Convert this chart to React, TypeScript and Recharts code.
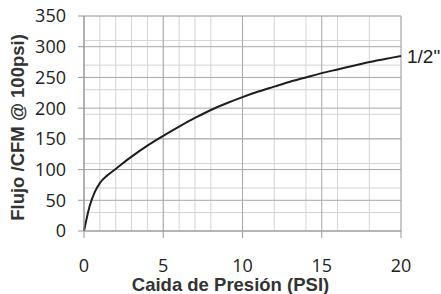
import React from "react";
import { LineChart, Line, XAxis, YAxis, CartesianGrid, ReferenceDot, Label } from "recharts";

const pressure = [0, 0.35, 0.67, 1, 1.5, 2, 3, 4, 5, 6, 7, 8, 9, 10, 11, 12, 13, 14, 15, 16, 17, 18, 19, 20];
const flow = [0, 40, 63, 78, 91, 101, 121, 139, 155, 170, 184, 197, 208, 218, 227, 235, 243, 250, 257, 263, 269, 275, 280, 285];
const xTicks = [0, 5, 10, 15, 20];
const yTicks = [0, 50, 100, 150, 200, 250, 300, 350];
const xMinor = [0, 1, 2, 3, 4, 5, 6, 7, 8, 9, 10, 11, 12, 13, 14, 15, 16, 17, 18, 19, 20];
const yMinor = [0, 10, 20, 30, 40, 50, 60, 70, 80, 90, 100, 110, 120, 130, 140, 150, 160, 170, 180, 190, 200, 210, 220, 230, 240, 250, 260, 270, 280, 290, 300, 310, 320, 330, 340, 350];
const seriesName = '1/2"';
const xTitle = "Caida de Presión (PSI)";
const yTitle = "Flujo /CFM @ 100psi)";

const data = pressure.map((p, i) => ({ p, f: flow[i] }));
const last = data[data.length - 1];

const tickFont = { fontFamily: "Open Sans", fontSize: 18, fill: "#222" };
const titleFont = { fontFamily: "Liberation Sans", fontWeight: "bold" as const, fontSize: 18.5, fill: "#333" };

export default function App() {
  return (
    <div style={{ position: "absolute", left: 0, top: 0, background: "#fff" }}>
      <LineChart width={441} height={294} data={data} margin={{ top: 16, right: 40, bottom: 0, left: 24 }}>
        <CartesianGrid verticalValues={xMinor} horizontalValues={yMinor} stroke="#d4d4d4" strokeWidth={1} />
        <CartesianGrid verticalValues={xTicks} horizontalValues={yTicks} stroke="#a8a8a8" strokeWidth={1} />
        <XAxis
          dataKey="p"
          type="number"
          domain={[0, 20]}
          ticks={xTicks}
          height={63}
          tickSize={7}
          tickMargin={21}
          stroke="#999"
          tick={tickFont}
          axisLine={{ stroke: "#999" }}
          tickLine={{ stroke: "#999" }}
        >
          <Label
            content={(props: any) => {
              const vb = props.viewBox;
              const cx = vb.x + vb.width / 2 - 12;
              const by = vb.y + vb.height - 3;
              return (
                <text x={cx} y={by} textAnchor="middle" style={titleFont}>
                  {xTitle}
                </text>
              );
            }}
          />
        </XAxis>
        <YAxis
          type="number"
          domain={[0, 350]}
          ticks={yTicks}
          width={60}
          tickSize={6}
          tickMargin={12}
          stroke="#999"
          tick={tickFont}
          axisLine={{ stroke: "#999" }}
          tickLine={{ stroke: "#999" }}
        >
          <Label
            content={(props: any) => {
              const vb = props.viewBox;
              const cx = vb.x - 7;
              const cy = vb.y + vb.height / 2 + 4;
              return (
                <text
                  x={cx}
                  y={cy}
                  transform={`rotate(-90 ${cx} ${cy})`}
                  textAnchor="middle"
                  dominantBaseline="central"
                  style={titleFont}
                >
                  {yTitle}
                </text>
              );
            }}
          />
        </YAxis>
        <Line
          dataKey="f"
          type="monotone"
          stroke="#1e1e1e"
          strokeWidth={2}
          dot={false}
          isAnimationActive={false}
        />
        <ReferenceDot
          x={last.p}
          y={last.f}
          r={0}
          ifOverflow="visible"
          label={{ value: seriesName, position: "right", offset: 6, style: { fontFamily: "Liberation Sans", fontSize: 19, fill: "#222" } }}
        />
      </LineChart>
    </div>
  );
}
